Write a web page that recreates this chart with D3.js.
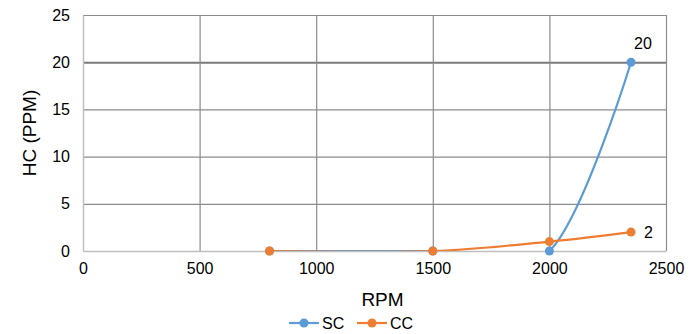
<!DOCTYPE html>
<html>
<head>
<meta charset="utf-8">
<script src="https://cdn.jsdelivr.net/npm/d3@7"></script>
<style>
  body { margin: 0; background: #fff; }
  svg { font-family: "Liberation Sans", Arial, sans-serif; }
</style>
</head>
<body>
<div id="chart"></div>
<script>
var rpm = [800, 1500, 2000, 2350];
var scValues = [0, 0, 0, 20];
var ccValues = [0, 0, 1, 2];
var seriesNames = ["SC", "CC"];
var xTicks = [0, 500, 1000, 1500, 2000, 2500];
var yTicks = [0, 5, 10, 15, 20, 25];

var svgWidth = 698, svgHeight = 334;
var margin = {top: 15, right: 32, bottom: 83, left: 83};
var width = svgWidth - margin.left - margin.right,
    height = svgHeight - margin.top - margin.bottom;

var svg = d3.select("#chart").append("svg")
  .attr("width", svgWidth)
  .attr("height", svgHeight);

var g = svg.append("g").attr("transform", "translate(" + margin.left + "," + margin.top + ")");

var xScale = d3.scaleLinear().domain([0, 2500]).range([0, width]);
var yScale = d3.scaleLinear().domain([0, 25]).range([height, 0]);
var color = d3.scaleOrdinal().domain(seriesNames).range(["#5B9BD5", "#ED7D31"]);

// gridlines
g.append("g").attr("class", "grid")
  .selectAll("line.h").data(yTicks.filter(function(d) { return d > 0; }))
  .enter().append("line")
  .attr("x1", 0).attr("x2", width)
  .attr("y1", function(d) { return yScale(d) + 0.5; })
  .attr("y2", function(d) { return yScale(d) + 0.5; })
  .attr("stroke", function(d) { return d == 20 ? "#7a7a7a" : "#8c8c8c"; })
  .attr("stroke-width", function(d) { return d == 20 ? 2 : 1.2; });

g.append("g").attr("class", "grid")
  .selectAll("line.v").data(xTicks.filter(function(d) { return d > 0; }))
  .enter().append("line")
  .attr("y1", 0).attr("y2", height)
  .attr("x1", function(d) { return xScale(d) + 0.5; })
  .attr("x2", function(d) { return xScale(d) + 0.5; })
  .attr("stroke", "#8c8c8c")
  .attr("stroke-width", 1.2);

// axes
var xAxis = g.append("g")
  .attr("transform", "translate(0," + height + ")")
  .call(d3.axisBottom(xScale).tickValues(xTicks).tickFormat(d3.format("d")).tickSize(0).tickPadding(12));
var yAxis = g.append("g")
  .call(d3.axisLeft(yScale).tickValues(yTicks).tickFormat(d3.format("d")).tickSize(0).tickPadding(13));
[xAxis, yAxis].forEach(function(a) {
  a.select(".domain").attr("stroke", "#bfbfbf").attr("stroke-width", 1.5);
  a.selectAll("text").attr("font-size", 16).attr("fill", "#000")
    .attr("font-family", "Liberation Sans, Arial, sans-serif");
});

g.append("text")
  .attr("x", width / 2 + 8).attr("y", height + 55)
  .attr("text-anchor", "middle").attr("font-size", 19).text("RPM");
g.append("text")
  .attr("transform", "translate(" + (-47) + "," + (height / 2) + ") rotate(-90)")
  .attr("text-anchor", "middle").attr("font-size", 19).text("HC (PPM)");

// series
var chartData = [
  {key: "SC", value: rpm.map(function(x, i) { return {x: x, y: scValues[i]}; })},
  {key: "CC", value: rpm.map(function(x, i) { return {x: x, y: ccValues[i]}; })}
];

svg.append("defs").append("clipPath").attr("id", "plotClip")
  .append("rect").attr("x", 0).attr("y", -10).attr("width", width + 10).attr("height", height + 10);

var line = d3.line()
  .curve(d3.curveCardinal.tension(0))
  .x(function(d) { return xScale(d.x); })
  .y(function(d) { return yScale(d.y); });

var gLine = g.selectAll(".gLine").data(chartData).enter().append("g").attr("class", "gLine");

gLine.append("path")
  .attr("d", function(d) { return line(d.value); })
  .attr("clip-path", "url(#plotClip)")
  .style("stroke", function(d) { return color(d.key); })
  .style("stroke-width", 2.2)
  .style("fill", "none");

gLine.selectAll("circle").data(function(d) { return d.value.map(function(v) { return {key: d.key, x: v.x, y: v.y}; }); })
  .enter().append("circle")
  .attr("cx", function(d) { return xScale(d.x); })
  .attr("cy", function(d) { return yScale(d.y); })
  .attr("r", 4.5)
  .attr("fill", function(d) { return color(d.key); });

// data labels on last points
var last = rpm.length - 1;
g.append("text")
  .attr("x", xScale(rpm[last]) + 12).attr("y", yScale(scValues[last]) - 13)
  .attr("text-anchor", "middle").attr("font-size", 16).text(scValues[last]);
g.append("text")
  .attr("x", xScale(rpm[last]) + 13).attr("y", yScale(ccValues[last]) + 6)
  .attr("text-anchor", "start").attr("font-size", 16).text(ccValues[last]);

// legend
var legend = svg.selectAll(".legend").data(seriesNames).enter().append("g")
  .attr("class", "legend")
  .attr("transform", function(d, i) { return "translate(" + (289 + i * 68) + ",323)"; });
legend.append("line")
  .attr("x1", 0).attr("x2", 30).attr("y1", 0).attr("y2", 0)
  .attr("stroke", color).attr("stroke-width", 2.2);
legend.append("circle").attr("cx", 15).attr("cy", 0).attr("r", 4.5).attr("fill", color);
legend.append("text").attr("x", 33).attr("y", 6).attr("font-size", 16).text(function(d) { return d; });
</script>
</body>
</html>
